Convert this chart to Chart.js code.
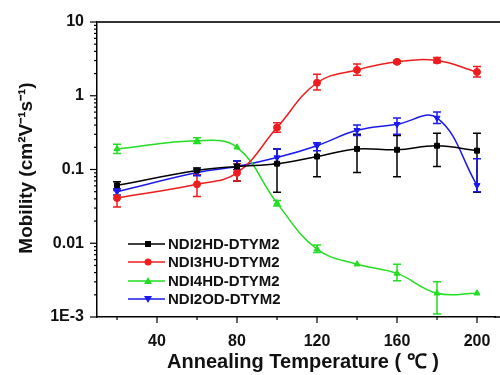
<!DOCTYPE html>
<html>
<head>
  <title>Mobility vs Annealing Temperature</title>
  <script src="https://cdn.jsdelivr.net/npm/chart.js"></script>
  <style>
    html, body { margin: 0; padding: 0; background: #fff; overflow: hidden; }
    canvas { display: block; }
  </style>
</head>
<body>
  <canvas id="myChart" width="500" height="375"></canvas>
  <script>
    // data
    var temps = [20, 60, 80, 100, 120, 140, 160, 180, 200];

    var ndi2hd = [0.061, 0.097, 0.11, 0.12, 0.15, 0.19, 0.185, 0.21, 0.18];
    var ndi2hdLow = [0.055, 0.085, 0.07, 0.049, 0.08, 0.091, 0.08, 0.11, 0.049];
    var ndi2hdHigh = [0.068, 0.105, 0.13, 0.19, 0.23, 0.30, 0.29, 0.31, 0.31];

    var ndi3hu = [0.041, 0.063, 0.09, 0.37, 1.5, 2.24, 2.88, 3.0, 2.1];
    var ndi3huLow = [0.031, 0.043, 0.07, 0.32, 1.2, 1.9, 2.75, 2.8, 1.8];
    var ndi3huHigh = [0.052, 0.085, 0.12, 0.43, 1.95, 2.7, 3.0, 3.3, 2.5];

    var ndi4hd = [0.19, 0.246, 0.2, 0.035, 0.0083, 0.0052, 0.0039, 0.0021, 0.0021];
    var ndi4hdLow = [0.165, 0.225, null, 0.032, 0.0075, null, 0.0031, 0.0011, null];
    var ndi4hdHigh = [0.22, 0.27, null, 0.038, 0.0095, null, 0.0052, 0.003, null];

    var ndi2od = [0.05, 0.091, 0.11, 0.145, 0.21, 0.34, 0.41, 0.5, 0.061];
    var ndi2odLow = [0.045, 0.082, 0.1, 0.12, 0.18, 0.29, 0.3, 0.42, 0.05];
    var ndi2odHigh = [0.055, 0.1, 0.13, 0.19, 0.23, 0.4, 0.5, 0.6, 0.14];

    var xTicks = [20, 40, 60, 80, 100, 120, 140, 160, 180, 200];
    var yDecades = [0.001, 0.01, 0.1, 1, 10];
    var yLabels = ['1E-3', '0.01', '0.1', '1', '10'];

    var seriesNames = ['NDI2HD-DTYM2', 'NDI3HU-DTYM2', 'NDI4HD-DTYM2', 'NDI2OD-DTYM2'];
    var seriesColors = ['#000000', '#ee1c1c', '#22dd22', '#1a1aee'];

    function pts(vals) {
      return temps.map(function(t, i) { return {x: t, y: vals[i]}; });
    }

    function isMajor(v) {
      var l = Math.log10(v);
      return Math.abs(l - Math.round(l)) < 1e-9;
    }

    var errData = [
      [ndi2hdLow, ndi2hdHigh],
      [ndi3huLow, ndi3huHigh],
      [ndi4hdLow, ndi4hdHigh],
      [ndi2odLow, ndi2odHigh]
    ];

    var extras = {
      id: 'extras',
      beforeDatasetsDraw: function(chart) {
        var ctx = chart.ctx;
        var xs = chart.scales.x, ys = chart.scales.y;
        ctx.save();
        ctx.lineWidth = 1.5;
        errData.forEach(function(e, k) {
          ctx.strokeStyle = seriesColors[k];
          temps.forEach(function(t, i) {
            if (e[0][i] == null) return;
            var px = xs.getPixelForValue(t);
            var y1 = ys.getPixelForValue(e[0][i]);
            var y2 = ys.getPixelForValue(e[1][i]);
            ctx.beginPath();
            ctx.moveTo(px, y1); ctx.lineTo(px, y2);
            ctx.moveTo(px - 4, y1); ctx.lineTo(px + 4, y1);
            ctx.moveTo(px - 4, y2); ctx.lineTo(px + 4, y2);
            ctx.stroke();
          });
        });
        ctx.restore();
      },
      afterDraw: function(chart) {
        var ctx = chart.ctx;
        var a = chart.chartArea;
        var xs = chart.scales.x, ys = chart.scales.y;
        ctx.save();
        // top frame line, bottom axis runs on to the edge
        ctx.strokeStyle = '#333';
        ctx.lineWidth = 2;
        ctx.beginPath();
        ctx.moveTo(a.left, a.top); ctx.lineTo(500, a.top);
        ctx.stroke();
        ctx.strokeStyle = '#000';
        ctx.lineWidth = 1.5;
        ctx.beginPath();
        ctx.moveTo(a.right - 1, a.bottom); ctx.lineTo(500, a.bottom);
        ctx.stroke();

        // tick marks
        ctx.strokeStyle = '#000';
        ctx.lineWidth = 1.2;
        xs.ticks.forEach(function(tk) {
          var px = xs.getPixelForValue(tk.value);
          var len = tk.value % 40 === 0 ? 6 : 3;
          ctx.beginPath();
          ctx.moveTo(px, a.bottom); ctx.lineTo(px, a.bottom + len);
          ctx.stroke();
        });
        ys.ticks.forEach(function(tk) {
          var py = ys.getPixelForValue(tk.value);
          var len = isMajor(tk.value) ? 7 : 3;
          ctx.beginPath();
          ctx.moveTo(a.left, py); ctx.lineTo(a.left - len, py);
          ctx.stroke();
        });

        // axis titles
        ctx.fillStyle = '#111';
        ctx.font = 'bold 20px "Liberation Sans", Arial, sans-serif';
        ctx.textAlign = 'center';
        ctx.textBaseline = 'middle';
        ctx.fillText('Annealing Temperature ( \u2103 )', 303, 362);
        ctx.font = 'bold 19px "Liberation Sans", Arial, sans-serif';
        ctx.save();
        ctx.translate(27, 168);
        ctx.rotate(-Math.PI / 2);
        ctx.fillText('Mobility (cm\u00b2V\u207b\u00b9s\u207b\u00b9)', 0, 0);
        ctx.restore();

        // legend inside plot
        var rows = [244, 262, 281, 299];
        ctx.font = 'bold 15px "Liberation Sans", Arial, sans-serif';
        ctx.textAlign = 'left';
        seriesNames.forEach(function(name, k) {
          var y = rows[k];
          ctx.strokeStyle = seriesColors[k];
          ctx.fillStyle = seriesColors[k];
          ctx.lineWidth = 1.5;
          ctx.beginPath();
          ctx.moveTo(128, y); ctx.lineTo(165, y);
          ctx.stroke();
          ctx.beginPath();
          if (k === 0) {
            ctx.fillRect(145, y - 3, 6, 6);
          } else if (k === 1) {
            ctx.arc(148, y, 3.5, 0, Math.PI * 2); ctx.fill();
          } else if (k === 2) {
            ctx.moveTo(148, y - 4); ctx.lineTo(152, y + 3); ctx.lineTo(144, y + 3); ctx.closePath(); ctx.fill();
          } else {
            ctx.moveTo(148, y + 4); ctx.lineTo(152, y - 3); ctx.lineTo(144, y - 3); ctx.closePath(); ctx.fill();
          }
          ctx.fillStyle = '#111';
          ctx.fillText(name, 168, y + 1);
        });
        ctx.restore();
      }
    };

    function makeSet(k, vals, style, rot) {
      return {
        label: seriesNames[k],
        data: pts(vals),
        borderColor: seriesColors[k],
        backgroundColor: seriesColors[k],
        borderWidth: 1.5,
        tension: 0.4,
        pointStyle: style,
        rotation: rot || 0,
        pointRadius: 3.5,
        pointBorderWidth: 1
      };
    }

    var ctx = document.getElementById('myChart').getContext('2d');
    var myChart = new Chart(ctx, {
      type: 'line',
      data: {
        datasets: [
          makeSet(0, ndi2hd, 'rect'),
          makeSet(1, ndi3hu, 'circle'),
          makeSet(2, ndi4hd, 'triangle'),
          makeSet(3, ndi2od, 'triangle', 180)
        ]
      },
      options: {
        responsive: false,
        animation: false,
        devicePixelRatio: 1,
        layout: { padding: { top: 22, right: 0, left: 0, bottom: 0 } },
        plugins: {
          legend: { display: false },
          tooltip: { enabled: false }
        },
        scales: {
          x: {
            type: 'linear',
            min: 10,
            max: 209,
            afterBuildTicks: function(scale) {
              scale.ticks = xTicks.map(function(v) { return {value: v}; });
            },
            afterFit: function(scale) { scale.height = 58; },
            ticks: {
              autoSkip: false,
              maxRotation: 0,
              padding: 9,
              color: '#111',
              font: { family: '"Liberation Sans", Arial, sans-serif', size: 16, weight: 'bold' },
              callback: function(v) { return v % 40 === 0 ? String(v) : ''; }
            },
            grid: { drawOnChartArea: false, drawTicks: true, tickLength: 6, tickColor: 'rgba(0,0,0,0)' },
            border: { color: '#000', width: 1.5 }
          },
          y: {
            type: 'logarithmic',
            min: 0.001,
            max: 10,
            afterBuildTicks: function(scale) {
              var t = [];
              yDecades.forEach(function(d, i) {
                if (i === yDecades.length - 1) { t.push({value: d}); return; }
                for (var m = 1; m <= 9; m++) t.push({value: m * d});
              });
              scale.ticks = t;
            },
            afterFit: function(scale) { scale.width = 97; },
            ticks: {
              autoSkip: false,
              padding: 6,
              color: '#111',
              font: { family: '"Liberation Sans", Arial, sans-serif', size: 16, weight: 'bold' },
              callback: function(v) {
                if (!isMajor(v)) return '';
                var i = Math.round(Math.log10(v)) + 3;
                return yLabels[i];
              }
            },
            grid: { drawOnChartArea: false, drawTicks: true, tickLength: 7, tickColor: 'rgba(0,0,0,0)' },
            border: { color: '#000', width: 1.5 }
          }
        }
      },
      plugins: [extras]
    });
  </script>
</body>
</html>
